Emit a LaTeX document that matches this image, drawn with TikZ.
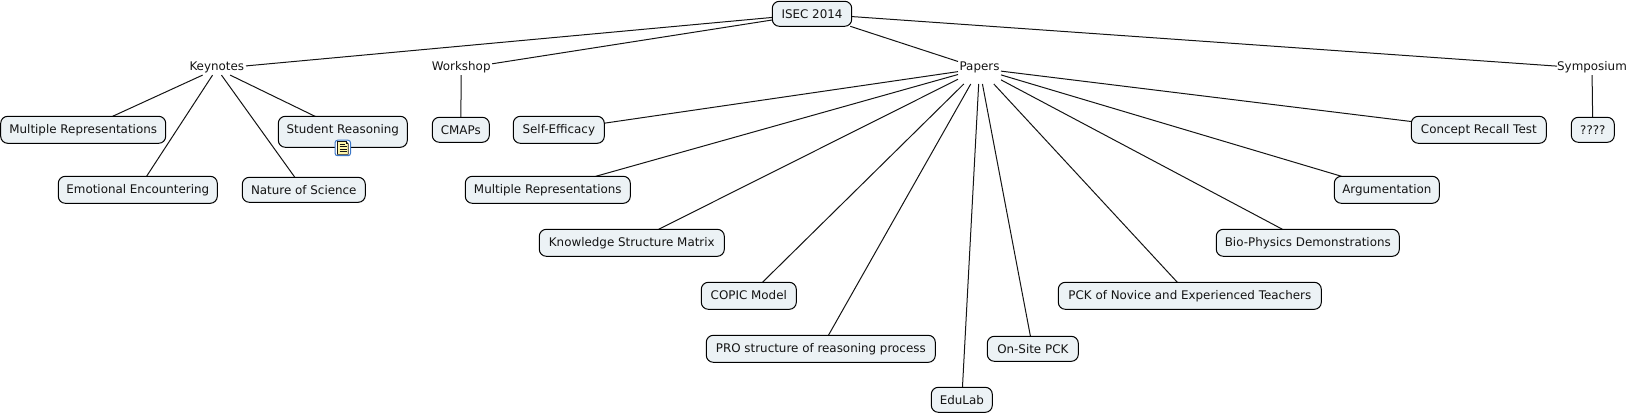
\documentclass[tikz,border=0pt]{standalone}
\usepackage{fontspec}
\setmainfont{DejaVu Sans}
\usetikzlibrary{backgrounds}
\definecolor{boxfill}{HTML}{ECF2F5}
\definecolor{ink}{HTML}{141414}
\definecolor{iconblue}{HTML}{3C78C8}
\definecolor{iconpage}{HTML}{FFF6AA}
\tikzset{
  x=1pt,y=-1pt,
  every node/.style={font=\fontsize{11.9pt}{13pt}\selectfont,text=ink,inner sep=0pt,outer sep=0pt},
  conceptA/.style={draw=black,line width=1pt,fill=boxfill,rounded corners=7pt,minimum height=27pt,text height=8pt,text depth=1pt},
  conceptB/.style={conceptA,minimum height=25pt,text height=9.6pt,text depth=1pt},
  plainlabel/.style={minimum height=13pt,text height=8pt,text depth=3.2pt},
  conn/.style={draw=ink,line width=1pt},
}
\begin{document}
\begin{tikzpicture}
\useasboundingbox (0,0) rectangle (1631,414);
\node[conceptB,minimum width=79.4pt] (isec) at (812,13.8) {ISEC 2014};
\node[plainlabel,minimum width=58.4pt] (key) at (216.8,68.6) {Keynotes};
\node[plainlabel,minimum width=62pt] (work) at (461.2,68.6) {Workshop};
\node[plainlabel,minimum width=43pt,minimum height=31pt] (pap) at (979.5,68.5) {Papers};
\node[plainlabel,minimum width=69.4pt] (sym) at (1592,68.6) {Symposium};
\node[conceptA,minimum width=165pt] (mr1) at (83.2,129.8) {Multiple Representations};
\node[conceptA,minimum width=129pt,minimum height=31pt,text height=8pt,text depth=5pt] (stud) at (342.8,131.8) {Student Reasoning};
\coordinate (studc) at (342.8,129.8);
\node[conceptB,minimum width=57pt] (cmaps) at (460.8,129.8) {CMAPs};
\node[conceptA,minimum width=159pt] (emo) at (137.8,189.8) {Emotional Encountering};
\node[conceptB,minimum width=123pt] (nat) at (303.8,189.8) {Nature of Science};
\node[conceptA,minimum width=91pt] (self) at (558.8,129.8) {Self-Efficacy};
\node[conceptA,minimum width=165pt] (mr2) at (547.8,189.8) {Multiple Representations};
\node[conceptA,minimum width=185pt] (ksm) at (631.8,242.8) {Knowledge Structure Matrix};
\node[conceptA,minimum width=95pt] (copic) at (748.8,295.8) {COPIC Model};
\node[conceptA,minimum width=229pt] (pro) at (820.8,348.8) {PRO structure of reasoning process};
\node[conceptB,minimum width=61pt] (edu) at (961.8,399.8) {EduLab};
\node[conceptB,minimum width=91pt] (site) at (1032.8,348.8) {On-Site PCK};
\node[conceptA,minimum width=263pt] (pck) at (1189.8,295.8) {PCK of Novice and Experienced Teachers};
\node[conceptA,minimum width=183pt] (bio) at (1307.8,242.8) {Bio-Physics Demonstrations};
\node[conceptA,minimum width=105pt] (arg) at (1386.8,189.8) {Argumentation};
\node[conceptA,minimum width=135pt] (crt) at (1478.8,129.8) {Concept Recall Test};
\node[conceptB,minimum width=43pt] (q) at (1592.8,129.8) {????};
% note icon
\node[draw=iconblue,line width=1pt,fill=white,rounded corners=2.5pt,minimum width=15.5pt,minimum height=15.5pt] (note) at (342.8,148) {};
\fill[iconpage,draw=ink,line width=0.7pt] (337.5,141.5) -- (346,141.5) -- (348.2,143.8) -- (348.2,154.4) -- (337.5,154.4) -- cycle;
\draw[ink,line width=0.6pt] (346,141.5) -- (346,143.8) -- (348.2,143.8)
  (339.5,144.6) -- (344.5,144.6) (339.5,146.8) -- (346.5,146.8) (339.5,149) -- (346.5,149) (339.5,151.2) -- (346.5,151.2);
\begin{scope}[on background layer]
\draw[conn] (isec) -- (key);
\draw[conn] (isec) -- (work);
\draw[conn] (isec) -- (pap);
\draw[conn] (isec) -- (sym);
\draw[conn] (key) -- (mr1);
\draw[conn] (key) -- (emo);
\draw[conn] (key) -- (nat);
\draw[conn] (key) -- (studc);
\draw[conn] (work) -- (cmaps);
\draw[conn] (sym) -- (q);
\foreach \c in {self,mr2,ksm,copic,pro,edu,site,pck,bio,arg,crt}{
  \draw[conn] (pap) -- (\c);
}
\end{scope}
\end{tikzpicture}
\end{document}
